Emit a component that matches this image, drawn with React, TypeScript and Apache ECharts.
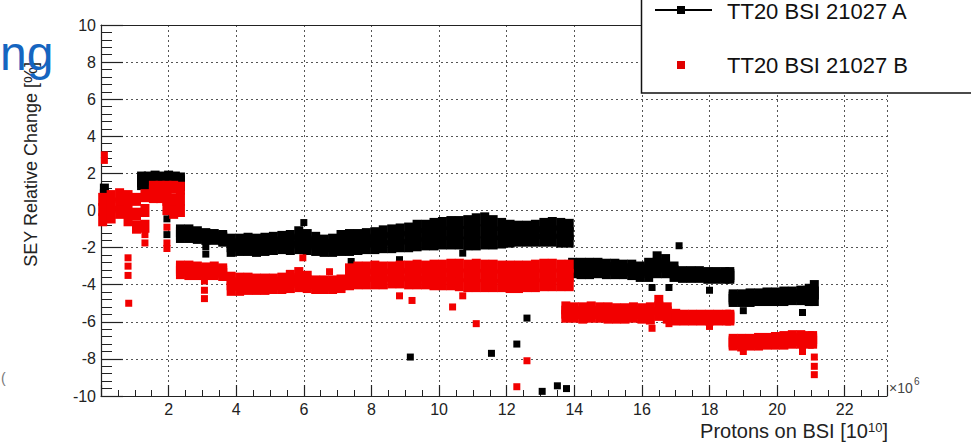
import React, { useEffect, useRef } from 'react';
import * as echarts from 'echarts';

const FONT = '"Liberation Sans", Arial, Helvetica, sans-serif';

// Axis ranges / ticks
const X_MIN = 0;
const X_MAX = 23.25;
const X_STEP = 2;
const Y_MIN = -10;
const Y_MAX = 10;
const Y_STEP = 2;

const seriesNames = ['TT20 BSI 21027 A', 'TT20 BSI 21027 B'];

// ---- Series A (black): dense band, read as top / middle / bottom of the band at each x ----
const aBandX = [
  0.1, 1.2, 1.4, 1.6, 1.8, 2.0, 2.2, 2.35,
  2.35, 2.6, 2.85, 3.1, 3.35, 3.6, 3.85, 4.1, 4.35, 4.6, 4.85, 5.1, 5.35, 5.6, 5.85, 6.1, 6.35, 6.6, 6.85, 7.1,
  7.35, 7.6, 7.85, 8.1, 8.35, 8.6, 8.85, 9.1, 9.35, 9.6, 9.85, 10.1, 10.35, 10.6, 10.85, 11.1, 11.35, 11.6, 11.85,
  12.1, 12.35, 12.6, 12.85, 13.1, 13.35, 13.6, 13.85,
  13.95, 14.2, 14.45, 14.7, 14.95, 15.2, 15.45, 15.7, 15.95, 16.2, 16.45, 16.7, 16.95, 17.2, 17.45, 17.7, 17.95,
  18.2, 18.45, 18.6,
  18.7, 18.95, 19.2, 19.45, 19.7, 19.95, 20.2, 20.45, 20.7, 20.95, 21.1,
];
const aBandTop = [
  1.1, 1.75, 1.75, 1.8, 1.75, 1.8, 1.75, 1.7,
  -1.1, -1.1, -1.2, -1.3, -1.35, -1.4, -1.6, -1.6, -1.55, -1.6, -1.55, -1.5, -1.45, -1.4, -1.2, -1.35, -1.5, -1.65, -1.6, -1.4,
  -1.35, -1.35, -1.3, -1.25, -1.15, -1.1, -1.05, -1.0, -0.85, -0.85, -0.75, -0.7, -0.65, -0.65, -0.6, -0.5, -0.45, -0.6, -0.75,
  -0.85, -0.9, -0.9, -0.85, -0.75, -0.7, -0.75, -0.8,
  -2.9, -2.9, -2.9, -2.9, -2.95, -2.95, -3.0, -3.0, -3.1, -2.9, -2.55, -2.7, -3.1, -3.35, -3.35, -3.35, -3.4,
  -3.4, -3.4, -3.4,
  -4.6, -4.6, -4.55, -4.55, -4.5, -4.5, -4.45, -4.45, -4.4, -4.3, -4.1,
];
const aBandMid = [
  0.8, 1.6, 1.6, 1.6, 1.6, 1.6, 1.6, 1.55,
  -1.25, -1.25, -1.3, -1.4, -1.45, -1.5, -1.9, -1.85, -1.85, -1.9, -1.85, -1.8, -1.75, -1.7, -1.6, -1.7, -1.8, -1.9, -1.9, -1.75,
  -1.7, -1.7, -1.65, -1.6, -1.55, -1.5, -1.5, -1.45, -1.35, -1.3, -1.3, -1.25, -1.2, -1.2, -1.2, -1.15, -1.1, -1.2, -1.25,
  -1.25, -1.25, -1.25, -1.2, -1.2, -1.15, -1.2, -1.25,
  -3.1, -3.1, -3.1, -3.1, -3.15, -3.15, -3.2, -3.2, -3.3, -3.2, -2.9, -3.0, -3.3, -3.45, -3.45, -3.45, -3.5,
  -3.5, -3.5, -3.5,
  -4.72, -4.72, -4.7, -4.68, -4.65, -4.65, -4.62, -4.6, -4.58, -4.55, -4.45,
];
const aBandBot = [
  0.5, 1.45, 1.45, 1.45, 1.45, 1.45, 1.45, 1.4,
  -1.4, -1.4, -1.45, -1.5, -1.5, -1.6, -2.15, -2.1, -2.1, -2.15, -2.1, -2.05, -2.0, -2.05, -2.0, -2.05, -2.1, -2.15, -2.15, -2.1,
  -2.1, -2.05, -2.0, -2.0, -1.95, -1.95, -1.9, -1.9, -1.85, -1.8, -1.8, -1.75, -1.75, -1.75, -1.8, -1.8, -1.75, -1.75, -1.7,
  -1.65, -1.6, -1.6, -1.6, -1.6, -1.6, -1.65, -1.65,
  -3.3, -3.35, -3.35, -3.3, -3.35, -3.35, -3.35, -3.4, -3.5, -3.5, -3.3, -3.3, -3.5, -3.55, -3.55, -3.55, -3.6,
  -3.6, -3.6, -3.6,
  -4.85, -4.85, -4.85, -4.8, -4.8, -4.8, -4.8, -4.75, -4.75, -4.8, -4.8,
];
// isolated black points
const aOutX = [1.95, 1.95, 3.1, 3.1, 6.0, 7.4, 8.83, 9.3, 10.7, 9.15, 11.55, 12.3, 12.6, 13.05, 13.5, 13.77, 17.1, 16.3, 16.8, 18.0, 19.0, 20.75];
const aOutY = [-0.45, -1.3, -1.95, -2.35, -0.65, -2.75, -2.65, -3.0, -2.3, -7.9, -7.7, -7.2, -5.8, -9.75, -9.45, -9.6, -1.9, -4.15, -4.15, -4.3, -5.4, -5.5];

// ---- Series B (red) ----
const bBandX = [
  0.05, 0.3, 0.55, 0.8, 1.05, 1.3, 1.55, 1.75, 1.95, 2.15, 2.35,
  2.35, 2.6, 2.85, 3.1, 3.35, 3.6, 3.85, 4.1, 4.35, 4.6, 4.85, 5.1, 5.35, 5.6, 5.85, 6.1, 6.35, 6.6, 6.85, 7.1,
  7.35, 7.6, 7.85, 8.1, 8.35, 8.6, 8.85, 9.1, 9.35, 9.6, 9.85, 10.1, 10.35, 10.6, 10.85, 11.1, 11.35, 11.6, 11.85,
  12.1, 12.35, 12.6, 12.85, 13.1, 13.35, 13.6, 13.85,
  13.75, 14.0, 14.25, 14.5, 14.75, 15.0, 15.25, 15.5, 15.75, 16.0, 16.25, 16.5, 16.75, 17.0, 17.25, 17.5, 17.75,
  18.0, 18.25, 18.5, 18.6,
  18.7, 18.95, 19.2, 19.45, 19.7, 19.95, 20.2, 20.45, 20.7, 20.95, 21.05,
];
const bBandTop = [
  0.6, 0.75, 0.85, 0.75, 0.6, 0.8, 1.25, 1.25, 1.25, 1.25, 1.2,
  -3.05, -3.05, -3.1, -3.15, -3.1, -3.2, -3.65, -3.7, -3.7, -3.75, -3.75, -3.75, -3.7, -3.55, -3.4, -3.6, -3.85, -3.85, -3.85, -3.8,
  -3.2, -3.1, -3.1, -3.05, -3.1, -3.1, -3.05, -3.05, -3.0, -3.05, -3.0, -3.0, -2.95, -2.95, -3.0, -2.95, -3.0, -3.0, -3.05,
  -3.05, -3.05, -3.05, -3.0, -2.95, -2.95, -3.0, -3.0,
  -5.25, -5.3, -5.3, -5.25, -5.3, -5.3, -5.35, -5.35, -5.3, -5.35, -5.3, -4.9, -5.3, -5.65, -5.7, -5.7, -5.7,
  -5.7, -5.7, -5.7, -5.7,
  -7.0, -7.0, -7.0, -6.95, -6.95, -6.9, -6.85, -6.8, -6.8, -6.85, -6.85,
];
const bBandMid = [
  0.05, 0.2, 0.35, 0.1, -0.2, 0.0, 1.0, 1.0, 0.6, 0.55, 0.6,
  -3.2, -3.22, -3.25, -3.28, -3.25, -3.32, -3.95, -3.98, -3.95, -3.98, -3.98, -3.95, -3.92, -3.82, -3.72, -3.85, -4.0, -4.0, -4.0, -3.95,
  -3.58, -3.5, -3.5, -3.48, -3.5, -3.48, -3.45, -3.48, -3.45, -3.48, -3.48, -3.48, -3.45, -3.48, -3.52, -3.5, -3.52, -3.52, -3.55,
  -3.58, -3.58, -3.55, -3.52, -3.48, -3.48, -3.5, -3.5,
  -5.48, -5.5, -5.52, -5.48, -5.5, -5.52, -5.55, -5.55, -5.5, -5.55, -5.55, -5.25, -5.52, -5.75, -5.78, -5.78, -5.78,
  -5.78, -5.78, -5.78, -5.78,
  -7.1, -7.12, -7.1, -7.08, -7.05, -7.02, -7.0, -6.95, -6.95, -6.98, -6.98,
];
const bBandBot = [
  -0.5, -0.35, -0.1, -0.5, -0.9, -0.85, 0.75, 0.75, 0.1, -0.1, 0.0,
  -3.35, -3.4, -3.4, -3.4, -3.4, -3.45, -4.25, -4.25, -4.2, -4.2, -4.2, -4.15, -4.15, -4.1, -4.05, -4.1, -4.15, -4.15, -4.15, -4.1,
  -3.95, -3.9, -3.9, -3.9, -3.9, -3.85, -3.85, -3.9, -3.9, -3.9, -3.95, -3.95, -3.95, -4.0, -4.05, -4.05, -4.05, -4.05, -4.05,
  -4.1, -4.1, -4.05, -4.05, -4.0, -4.0, -4.0, -4.0,
  -5.7, -5.7, -5.75, -5.7, -5.7, -5.75, -5.75, -5.75, -5.7, -5.75, -5.8, -5.6, -5.75, -5.85, -5.85, -5.85, -5.85,
  -5.85, -5.85, -5.85, -5.85,
  -7.2, -7.25, -7.2, -7.2, -7.15, -7.15, -7.15, -7.1, -7.1, -7.1, -7.1,
];
// isolated red points
const bOutX = [0.1, 0.1, 0.8, 0.8, 0.8, 0.82, 1.3, 1.3, 1.95, 1.95, 1.95, 3.06, 3.06, 3.06, 5.97, 6.76, 8.83, 9.2, 10.4, 10.7, 11.1, 12.3, 12.6, 16.3, 16.8, 18.0, 19.0, 20.75, 21.1, 21.1, 21.1];
const bOutY = [3.0, 2.7, -2.55, -3.0, -3.5, -5.0, -1.3, -1.75, -0.9, -1.75, -2.05, -3.8, -4.3, -4.75, -2.55, -3.3, -4.6, -4.85, -5.2, -4.6, -6.1, -9.5, -8.1, -6.35, -6.1, -6.25, -7.6, -7.6, -7.9, -8.4, -8.85];

function bandPoints(xs: number[], cols: number[][]) {
  const out: number[][] = [];
  cols.forEach((col) => col.forEach((y, i) => out.push([xs[i], y, 1])));
  return out;
}
function singlePoints(xs: number[], ys: number[]) {
  return xs.map((x, i) => [x, ys[i], 0]);
}

export default function App() {
  const ref = useRef<HTMLDivElement>(null);
  useEffect(() => {
    document.body.style.margin = '0';
    const chart = echarts.init(ref.current!, null, { renderer: 'svg' });
    const axisColor = '#222';
    const gridLine = { show: true, lineStyle: { color: '#555', type: [2, 3] as any, width: 1 } };
    const sizeFn = (v: number[]) => (v[2] ? [9, 13] : 7);
    chart.setOption({
      animation: false,
      backgroundColor: '#fff',
      grid: { left: 101, top: 25, width: 786, height: 371, containLabel: false },
      xAxis: [
        {
          type: 'value', min: X_MIN, max: X_MAX, interval: X_STEP,
          axisLine: { show: true, onZero: false, lineStyle: { color: axisColor, width: 1.2 } },
          axisTick: { show: true, inside: true, length: 11, lineStyle: { color: axisColor, width: 1.2 } },
          minorTick: { show: true, splitNumber: 4, length: 6, lineStyle: { color: axisColor, width: 1 } },
          splitLine: gridLine,
          axisLabel: {
            color: axisColor, fontSize: 16, fontFamily: FONT, margin: 5,
            showMinLabel: false, showMaxLabel: false,
            formatter: (v: number) => (v === 0 ? '' : String(v)),
          },
        },
        {
          type: 'value', position: 'top', min: X_MIN, max: X_MAX, interval: X_STEP,
          axisLine: { show: true, onZero: false, lineStyle: { color: axisColor, width: 1.2 } },
          axisTick: { show: false }, axisLabel: { show: false }, splitLine: { show: false },
        },
      ],
      yAxis: {
        type: 'value', min: Y_MIN, max: Y_MAX, interval: Y_STEP,
        axisLine: { show: true, onZero: false, lineStyle: { color: axisColor, width: 1.2 } },
        axisTick: { show: true, inside: true, length: 22, lineStyle: { color: axisColor, width: 1.2 } },
        minorTick: { show: true, splitNumber: 5, length: 11, lineStyle: { color: axisColor, width: 1 } },
        splitLine: gridLine,
        axisLabel: { color: axisColor, fontSize: 16, fontFamily: FONT, margin: 5 },
      },
      series: [
        {
          type: 'scatter', name: seriesNames[0], symbol: 'rect', symbolSize: sizeFn,
          data: [...bandPoints(aBandX, [aBandTop, aBandMid, aBandBot]), ...singlePoints(aOutX, aOutY)],
          itemStyle: { color: '#000', opacity: 1 }, silent: true, z: 3,
        },
        {
          type: 'scatter', name: seriesNames[1], symbol: 'rect', symbolSize: sizeFn,
          data: [...bandPoints(bBandX, [bBandTop, bBandMid, bBandBot]), ...singlePoints(bOutX, bOutY)],
          itemStyle: { color: '#f20000', opacity: 1 }, silent: true, z: 4,
        },
      ],
      graphic: [
        // axis titles
        {
          type: 'text', x: 888, y: 431, z: 50,
          style: {
            text: 'Protons on BSI [10{s|10}]', fill: '#222', font: `20px ${FONT}`,
            align: 'right', verticalAlign: 'middle',
            rich: { s: { fontSize: 13, fontFamily: FONT, fill: '#222', verticalAlign: 'top', lineHeight: 20 } },
          },
        },
        {
          type: 'text', x: 31, y: 62, rotation: Math.PI / 2, z: 50,
          style: { text: 'SEY Relative Change [%]', fill: '#222', font: `18px ${FONT}`, align: 'right', verticalAlign: 'middle' },
        },
        { type: 'text', x: 889, y: 388, z: 50, style: { text: '×10', fill: '#444', font: `14px ${FONT}`, align: 'left', verticalAlign: 'middle' } },
        { type: 'text', x: 914, y: 381, z: 50, style: { text: '6', fill: '#444', font: `10px ${FONT}`, align: 'left', verticalAlign: 'middle' } },
        // legend
        {
          type: 'group', z: 100,
          children: [
            { type: 'rect', z: 100, shape: { x: 641.5, y: -3, width: 340, height: 96 }, style: { fill: '#fff', stroke: '#111', lineWidth: 1.5 } },
            { type: 'line', z: 101, shape: { x1: 655, y1: 10, x2: 712, y2: 10 }, style: { stroke: '#000', lineWidth: 2 } },
            { type: 'rect', z: 102, shape: { x: 677, y: 6, width: 8, height: 8 }, style: { fill: '#000' } },
            { type: 'rect', z: 102, shape: { x: 677, y: 61, width: 8, height: 8 }, style: { fill: '#e00000' } },
            { type: 'text', z: 102, x: 727, y: 11, style: { text: seriesNames[0], fill: '#111', font: `22px ${FONT}`, align: 'left', verticalAlign: 'middle' } },
            { type: 'text', z: 102, x: 727, y: 65, style: { text: seriesNames[1], fill: '#111', font: `22px ${FONT}`, align: 'left', verticalAlign: 'middle' } },
          ],
        },
        // overlay fragments at the left edge
        { type: 'text', x: 0, y: 53, z: 60, style: { text: 'ng', fill: '#1565c0', font: `48px ${FONT}`, align: 'left', verticalAlign: 'middle' } },
        { type: 'text', x: 1, y: 378, z: 60, style: { text: '(', fill: '#777', font: `14px ${FONT}`, align: 'left', verticalAlign: 'middle' } },
      ],
    });
    return () => chart.dispose();
  }, []);
  return <div ref={ref} style={{ width: 971, height: 442 }} />;
}
